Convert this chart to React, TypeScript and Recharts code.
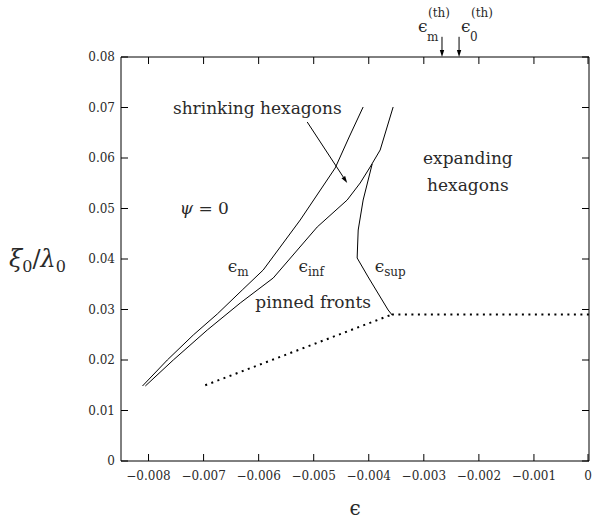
import React from 'react';
import { LineChart, Line, XAxis, YAxis, ReferenceLine, ReferenceDot } from 'recharts';

const xTicks = [-0.008, -0.007, -0.006, -0.005, -0.004, -0.003, -0.002, -0.001, 0];
const xTickLabels = ['−0.008', '−0.007', '−0.006', '−0.005', '−0.004', '−0.003', '−0.002', '−0.001', '0'];
const yTicks = [0, 0.01, 0.02, 0.03, 0.04, 0.05, 0.06, 0.07, 0.08];
const yTickLabels = ['0', '0.01', '0.02', '0.03', '0.04', '0.05', '0.06', '0.07', '0.08'];

const epsM = [
  { x: -0.00811, y: 0.01485 },
  { x: -0.007659, y: 0.02 },
  { x: -0.007187, y: 0.02495 },
  { x: -0.006751, y: 0.02911 },
  { x: -0.006298, y: 0.03386 },
  { x: -0.005917, y: 0.03782 },
  { x: -0.005245, y: 0.04772 },
  { x: -0.00461, y: 0.05802 },
  { x: -0.004356, y: 0.06416 },
  { x: -0.004102, y: 0.0701 },
];

const epsInf = [
  { x: -0.008058, y: 0.01485 },
  { x: -0.00755, y: 0.02 },
  { x: -0.006933, y: 0.02594 },
  { x: -0.006334, y: 0.03129 },
  { x: -0.005735, y: 0.03624 },
  { x: -0.004936, y: 0.04634 },
  { x: -0.004392, y: 0.05168 },
  { x: -0.004156, y: 0.05505 },
  { x: -0.003975, y: 0.05822 },
  { x: -0.003793, y: 0.06158 },
  { x: -0.003557, y: 0.0701 },
];

const epsSup = [
  { x: -0.003938, y: 0.05881 },
  { x: -0.004102, y: 0.05168 },
  { x: -0.004192, y: 0.04574 },
  { x: -0.004211, y: 0.0402 },
  { x: -0.004011, y: 0.03644 },
  { x: -0.003648, y: 0.0299 },
  { x: -0.003575, y: 0.02891 },
];

const pinnedFlat = [
  { x: -0.00358, y: 0.029 },
  { x: 0, y: 0.029 },
];

const pinnedSlope = [
  { x: -0.00697, y: 0.015 },
  { x: -0.00358, y: 0.029 },
];

const shrinkArrow = [
  { x: -0.005118, y: 0.06713 },
  { x: -0.004392, y: 0.05505 },
];

const thresholdM = -0.00267;
const threshold0 = -0.00236;
const thresholdArrowTop = 0.084;
const thresholdArrowTip = 0.08;

const plainLabels = [
  { id: 'shrink', x: -0.006025, y: 0.0699, text: 'shrinking hexagons' },
  { id: 'exp1', x: -0.0022, y: 0.06, text: 'expanding' },
  { id: 'exp2', x: -0.0022, y: 0.05465, text: 'hexagons' },
  { id: 'pinned', x: -0.005009, y: 0.03149, text: 'pinned fronts' },
];

const epsLabels = [
  { id: 'm', x: -0.00637, y: 0.0382, sub: 'm' },
  { id: 'inf', x: -0.005045, y: 0.0382, sub: 'inf' },
  { id: 'sup', x: -0.003611, y: 0.0382, sub: 'sup' },
];

const psiLabel = { x: -0.006987, y: 0.0501 };

const FONT = '"DejaVu Serif", serif';
const TEXT = '#2a2a2a';
const TICK_LEN = 7;
const TICK_COLOR = '#000';
const X_LABEL_GAP = 10;
const Y_LABEL_GAP = 6;

const fmtX = (v: number) => {
  const i = xTicks.findIndex((t) => Math.abs(t - v) < 1e-9);
  return i >= 0 ? xTickLabels[i] : '';
};
const fmtY = (v: number) => {
  const i = yTicks.findIndex((t) => Math.abs(t - v) < 1e-9);
  return i >= 0 ? yTickLabels[i] : '';
};

// Tick renderers: marks point inward, labels sit outside the frame.
const BottomTick = (p: any) => {
  const axisY = p.y - X_LABEL_GAP;
  return (
    <g>
      <line x1={p.x} x2={p.x} y1={axisY} y2={axisY - TICK_LEN} stroke={TICK_COLOR} strokeWidth={1} />
      <text x={p.x} y={p.y} dy="0.71em" textAnchor="middle" fontFamily={FONT} fontSize={12} fill={TEXT}>
        {fmtX(p.payload.value)}
      </text>
    </g>
  );
};
const TopTick = (p: any) => (
  <line x1={p.x} x2={p.x} y1={p.y} y2={p.y + TICK_LEN} stroke={TICK_COLOR} strokeWidth={1} />
);
const LeftTick = (p: any) => {
  const axisX = p.x + Y_LABEL_GAP;
  return (
    <g>
      <line x1={axisX} x2={axisX + TICK_LEN} y1={p.y} y2={p.y} stroke={TICK_COLOR} strokeWidth={1} />
      <text x={p.x} y={p.y} dy="0.355em" textAnchor="end" fontFamily={FONT} fontSize={12} fill={TEXT}>
        {fmtY(p.payload.value)}
      </text>
    </g>
  );
};
const RightTick = (p: any) => (
  <line x1={p.x} x2={p.x - TICK_LEN} y1={p.y} y2={p.y} stroke={TICK_COLOR} strokeWidth={1} />
);

const Arrow = (p: any) => {
  const { x1, y1, x2, y2 } = p;
  const dx = x2 - x1;
  const dy = y2 - y1;
  const len = Math.hypot(dx, dy) || 1;
  const ux = dx / len;
  const uy = dy / len;
  const L = 7;
  const W = 2.2;
  const bx = x2 - ux * L;
  const by = y2 - uy * L;
  const pts = `${x2},${y2} ${bx - uy * W},${by + ux * W} ${bx + uy * W},${by - ux * W}`;
  return (
    <g>
      <line x1={x1} y1={y1} x2={bx} y2={by} stroke="#000" strokeWidth={1} />
      <polygon points={pts} fill="#000" />
    </g>
  );
};

const PlainText = (text: string) => (p: any) => (
  <text x={p.cx} y={p.cy + 6} textAnchor="middle" fontFamily={FONT} fontSize={17} fill={TEXT}>
    {text}
  </text>
);

const EpsText = (sub: string) => (p: any) => (
  <text x={p.cx} y={p.cy + 4} textAnchor="middle" fontFamily={FONT} fontSize={17} fill={TEXT}>
    <tspan>ϵ</tspan>
    <tspan fontSize={12} dy={4}>{sub}</tspan>
  </text>
);

const PsiText = (p: any) => (
  <text x={p.cx} y={p.cy + 6} textAnchor="middle" fontFamily={FONT} fontSize={17} fill={TEXT}>
    <tspan fontStyle="italic">ψ</tspan>
    <tspan> = 0</tspan>
  </text>
);

const ThresholdText = (sub: string, epsDx: number) => (p: any) => {
  const x0 = p.cx + epsDx;
  return (
    <g fontFamily={FONT} fill={TEXT}>
      <text x={x0} y={p.cy - 25} fontSize={17}>ϵ</text>
      <text x={x0 + 9} y={p.cy - 16} fontSize={12}>{sub}</text>
      <text x={x0 + 10} y={p.cy - 40} fontSize={12}>(th)</text>
    </g>
  );
};

const XTitle = (p: any) => {
  const vb = p.viewBox || { x: 121, y: 461, width: 468, height: 30 };
  return (
    <text x={vb.x + vb.width / 2} y={vb.y + 54} textAnchor="middle" fontFamily={FONT} fontSize={20} fill={TEXT}>
      ϵ
    </text>
  );
};

const YTitle = (p: any) => {
  const vb = p.viewBox || { x: 71, y: 57, width: 50, height: 404 };
  const cy = vb.y + vb.height / 2;
  return (
    <text x={vb.x - 62} y={cy + 8} fontFamily={FONT} fontSize={24} fill={TEXT}>
      <tspan fontStyle="italic">ξ</tspan>
      <tspan fontSize={16} dy={5}>0</tspan>
      <tspan dy={-5}>/</tspan>
      <tspan fontStyle="italic">λ</tspan>
      <tspan fontSize={16} dy={5}>0</tspan>
    </text>
  );
};

export default function App() {
  return (
    <div style={{ position: 'absolute', left: 0, top: 0, width: 592, height: 521, background: '#fff' }}>
      <LineChart width={592} height={521} margin={{ top: 56, right: 2, bottom: 30, left: 71 }}>
        <XAxis
          xAxisId="b"
          dataKey="x"
          type="number"
          domain={[-0.0085, 0]}
          ticks={xTicks}
          tickLine={false}
          tickSize={0}
          tickMargin={X_LABEL_GAP}
          height={30}
          stroke="#000"
          tick={BottomTick}
          label={{ content: XTitle }}
          allowDataOverflow
        />
        <XAxis
          xAxisId="t"
          orientation="top"
          dataKey="x"
          type="number"
          domain={[-0.0085, 0]}
          ticks={xTicks}
          tickLine={false}
          tickSize={0}
          tickMargin={0}
          height={1}
          stroke="#000"
          tick={TopTick}
          allowDataOverflow
        />
        <YAxis
          yAxisId="l"
          type="number"
          domain={[0, 0.08]}
          ticks={yTicks}
          tickLine={false}
          tickSize={0}
          tickMargin={Y_LABEL_GAP}
          width={50}
          stroke="#000"
          tick={LeftTick}
          label={{ content: YTitle }}
          allowDataOverflow
        />
        <YAxis
          yAxisId="r"
          orientation="right"
          type="number"
          domain={[0, 0.08]}
          ticks={yTicks}
          tickLine={false}
          tickSize={0}
          tickMargin={0}
          width={1}
          stroke="#000"
          tick={RightTick}
          allowDataOverflow
        />

        <Line xAxisId="b" yAxisId="l" data={epsM} dataKey="y" stroke="#000" strokeWidth={1} dot={false} isAnimationActive={false} type="linear" />
        <Line xAxisId="b" yAxisId="l" data={epsInf} dataKey="y" stroke="#000" strokeWidth={1} dot={false} isAnimationActive={false} type="linear" />
        <Line xAxisId="b" yAxisId="l" data={epsSup} dataKey="y" stroke="#000" strokeWidth={1} dot={false} isAnimationActive={false} type="linear" />
        <Line xAxisId="b" yAxisId="l" data={pinnedFlat} dataKey="y" stroke="#000" strokeWidth={2} strokeDasharray="2 4.5" dot={false} isAnimationActive={false} type="linear" />
        <Line xAxisId="b" yAxisId="l" data={pinnedSlope} dataKey="y" stroke="#000" strokeWidth={2} strokeDasharray="2 4.5" dot={false} isAnimationActive={false} type="linear" />

        <ReferenceLine xAxisId="b" yAxisId="l" segment={shrinkArrow} ifOverflow="visible" shape={Arrow} />
        <ReferenceLine
          xAxisId="b"
          yAxisId="l"
          segment={[{ x: thresholdM, y: thresholdArrowTop }, { x: thresholdM, y: thresholdArrowTip }]}
          ifOverflow="visible"
          shape={Arrow}
        />
        <ReferenceLine
          xAxisId="b"
          yAxisId="l"
          segment={[{ x: threshold0, y: thresholdArrowTop }, { x: threshold0, y: thresholdArrowTip }]}
          ifOverflow="visible"
          shape={Arrow}
        />

        {plainLabels.map((l) => (
          <ReferenceDot key={l.id} xAxisId="b" yAxisId="l" x={l.x} y={l.y} r={0} ifOverflow="visible" shape={PlainText(l.text)} />
        ))}
        {epsLabels.map((l) => (
          <ReferenceDot key={l.id} xAxisId="b" yAxisId="l" x={l.x} y={l.y} r={0} ifOverflow="visible" shape={EpsText(l.sub)} />
        ))}
        <ReferenceDot xAxisId="b" yAxisId="l" x={psiLabel.x} y={psiLabel.y} r={0} ifOverflow="visible" shape={PsiText} />
        <ReferenceDot xAxisId="b" yAxisId="l" x={thresholdM} y={thresholdArrowTip} r={0} ifOverflow="visible" shape={ThresholdText('m', -24)} />
        <ReferenceDot xAxisId="b" yAxisId="l" x={threshold0} y={thresholdArrowTip} r={0} ifOverflow="visible" shape={ThresholdText('0', 2)} />
      </LineChart>
    </div>
  );
}
